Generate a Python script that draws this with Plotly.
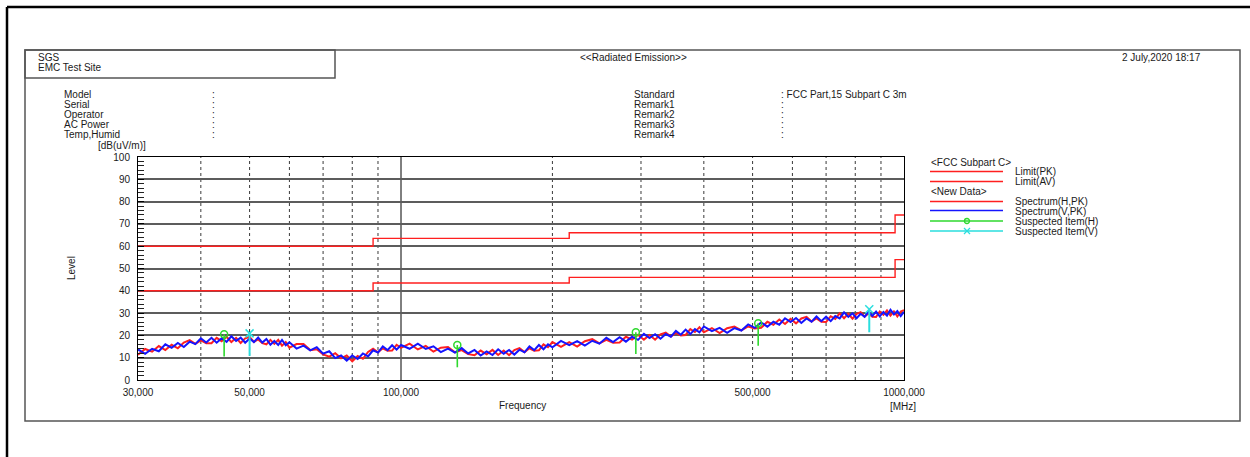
import plotly.graph_objects as go

W, H = 1250, 457

# ---- sweep data (MHz / dB(uV/m)) ----
FREQ_MHZ = [
    30, 31, 32, 33, 34, 35, 36, 37, 38, 39, 40, 41, 42, 43, 44, 45, 46, 47, 48, 49,
    50, 51, 52, 53, 54, 55, 56, 57, 58, 59, 60,
    62, 64, 66, 68, 70, 72, 74, 76, 78, 80, 82, 84, 86, 88, 90, 92, 94, 96, 98, 100,
    104, 108, 112, 116, 120, 124, 128, 132, 136, 140, 144, 148, 152, 156, 160, 164,
    168, 172, 176, 180, 184, 188, 192, 196, 200,
    208, 216, 224, 232, 240, 248, 256, 264, 272, 280, 288, 296, 304, 312, 320, 328,
    336, 344, 352, 360, 368, 376, 384, 392, 400,
    415, 430, 445, 460, 475, 490, 505, 520, 535, 550, 565, 580, 595, 610, 625, 640,
    655, 670, 685, 700, 715, 730, 745, 760, 775, 790, 805, 820, 835, 850, 865, 880,
    895, 910, 925, 940, 955, 970, 985, 1000,
]

SPECTRUM_H_PK = [
    11.3, 13.9, 12.7, 15.2, 13.4, 15.8, 14.2, 16.8, 17.9, 16.2, 17.8, 16.5, 16.5, 18.9,
    17.4, 19.4, 17.0, 18.9, 16.6, 18.7, 19.3, 17.1, 18.2, 16.5, 16.0, 18.0, 16.2, 18.0,
    15.4, 17.0, 14.5,
    16.1, 16.1, 13.4, 13.8, 11.5, 10.5, 12.0, 9.7, 11.0, 8.4, 10.8, 9.5, 12.6, 14.0,
    12.4, 14.2, 13.1, 13.2, 15.8, 14.4,
    16.3, 13.7, 15.3, 12.7, 14.5, 14.8, 12.4, 13.4, 11.6, 11.1, 13.2, 11.5, 13.5, 11.2,
    13.2, 11.1, 13.4, 14.3, 12.5, 14.2, 13.1, 13.3, 16.0, 14.7, 17.0,
    14.9, 17.0, 15.0, 17.4, 18.3, 16.4, 18.0, 16.7, 16.8, 19.4, 18.1, 20.3, 18.1, 20.2,
    18.1, 20.5, 21.3, 19.5, 21.1, 20.0, 20.2, 22.8, 21.5, 23.7, 21.4,
    23.3, 21.0, 23.2, 24.0, 22.3, 24.0, 23.1, 23.4, 26.1, 24.8, 27.1, 25.1, 27.4, 25.4,
    27.6, 28.3, 26.2, 27.6, 26.1, 26.0, 28.6, 27.4, 29.9, 27.7, 29.7, 27.5, 29.7, 30.4,
    28.4, 29.8, 28.4, 28.3, 30.7, 29.2, 31.2, 28.9, 30.8, 28.5, 30.7, 31.3,
]

SPECTRUM_V_PK = [
    13.7, 11.7, 14.0, 12.9, 16.0, 14.4, 16.6, 14.8, 17.2, 16.1, 18.7, 16.8, 18.9, 16.7,
    18.7, 17.1, 19.6, 17.5, 19.0, 16.7, 18.6, 17.0, 19.1, 16.8, 18.4, 15.8, 17.5, 15.7,
    18.0, 15.6, 16.9,
    14.1, 15.4, 13.3, 14.7, 11.8, 12.9, 9.8, 11.0, 8.7, 11.0, 9.4, 11.9, 10.6, 13.3,
    12.3, 15.1, 13.4, 15.6, 13.6, 15.7,
    14.0, 16.3, 13.9, 15.1, 12.5, 14.1, 12.3, 14.3, 11.9, 13.5, 11.0, 12.8, 11.2, 13.8,
    11.8, 13.5, 11.4, 13.6, 12.4, 15.1, 13.4, 15.7, 13.8, 16.0, 14.7,
    17.5, 15.6, 17.4, 15.4, 17.6, 16.3, 18.9, 17.0, 19.2, 17.2, 19.4, 18.0, 20.7, 18.8,
    20.5, 18.5, 20.6, 19.4, 22.0, 20.3, 22.6, 20.6, 22.8, 21.4, 24.0,
    21.9, 23.4, 21.2, 23.3, 22.2, 24.9, 23.4, 25.8, 23.9, 26.1, 24.8, 27.7, 26.0, 27.8,
    25.6, 27.6, 26.1, 28.5, 26.4, 28.4, 26.4, 28.7, 27.6, 30.3, 28.3, 29.9, 27.7, 29.7,
    28.3, 30.7, 28.7, 30.7, 28.5, 30.5, 28.9, 31.5, 29.4, 30.9, 28.7, 30.6,
]

# ---- FCC Part 15 Subpart C limits, 3 m ----
LIMIT_EDGES_MHZ = [30, 88, 216, 960, 1000]
LIMIT_PK = [60.0, 63.5, 66.0, 74.0]
LIMIT_AV = [40.0, 43.5, 46.0, 54.0]

# ---- suspected items: peak level and reading (bottom of the stem) ----
SUSP_H_FREQ = [44.5, 129.4, 293.0, 513.0]
SUSP_H_LEVEL = [20.5, 15.7, 21.4, 25.4]
SUSP_H_READING = [10.5, 5.7, 11.7, 15.4]
SUSP_V_FREQ = [50.0, 853.0]
SUSP_V_LEVEL = [20.9, 31.7]
SUSP_V_READING = [10.8, 21.4]

# ---- axes ----
X_TICKS = [30, 50, 100, 500, 1000]
X_TICK_TEXT = ["30,000", "50,000", "100,000", "500,000", "1000,000"]
X_GRID_DASHED = [40, 50, 60, 70, 80, 90, 200, 300, 400, 500, 600, 700, 800, 900]
X_GRID_SOLID = [100]

HEADER_LEFT = ["Model", "Serial", "Operator", "AC Power", "Temp,Humid"]
HEADER_RIGHT = ["Standard", "Remark1", "Remark2", "Remark3", "Remark4"]
HEADER_RIGHT_VALUES = ["FCC Part,15 Subpart C 3m", "", "", "", ""]

FONT = "Liberation Sans, Arial, sans-serif"
TXT = "#1a1a1a"
RED = "#ff1f1f"
BLUE = "#1414ff"
GREEN = "#2ed82e"
CYAN = "#2adede"


def px(x):
    return x / W


def py(y):
    return 1 - y / H


def step_line(edges, values):
    return list(edges), list(values) + [values[-1]]


def stems(freqs, tops, bottoms):
    xs, ys = [], []
    for f, t, b in zip(freqs, tops, bottoms):
        xs += [f, f, None]
        ys += [t, b, None]
    return xs, ys


fig = go.Figure()

# limits
for lim in (LIMIT_PK, LIMIT_AV):
    lx, ly = step_line(LIMIT_EDGES_MHZ, lim)
    fig.add_trace(go.Scatter(x=lx, y=ly, mode="lines", line_shape="hv",
                             line=dict(color=RED, width=1.4)))

# spectra
fig.add_trace(go.Scatter(x=FREQ_MHZ, y=SPECTRUM_H_PK, mode="lines",
                         line=dict(color=RED, width=2)))
fig.add_trace(go.Scatter(x=FREQ_MHZ, y=SPECTRUM_V_PK, mode="lines",
                         line=dict(color=BLUE, width=2)))

# suspected items
sx, sy = stems(SUSP_H_FREQ, SUSP_H_LEVEL, SUSP_H_READING)
fig.add_trace(go.Scatter(x=sx, y=sy, mode="lines", line=dict(color=GREEN, width=1.6)))
fig.add_trace(go.Scatter(x=SUSP_H_FREQ, y=SUSP_H_LEVEL, mode="markers",
                         marker=dict(symbol="circle-open", size=7, color=GREEN,
                                     line=dict(width=1.5, color=GREEN))))
sx, sy = stems(SUSP_V_FREQ, SUSP_V_LEVEL, SUSP_V_READING)
fig.add_trace(go.Scatter(x=sx, y=sy, mode="lines", line=dict(color=CYAN, width=2)))
fig.add_trace(go.Scatter(x=SUSP_V_FREQ, y=SUSP_V_LEVEL, mode="markers",
                         marker=dict(symbol="x-thin", size=8, color=CYAN,
                                     line=dict(width=1.5, color=CYAN))))

shapes = []
# vertical frequency grid
for f in X_GRID_DASHED:
    shapes.append(dict(type="line", xref="x", yref="y domain", x0=f, x1=f, y0=0, y1=1,
                       line=dict(color="#3a3a3a", width=1, dash="3px,3px"), layer="below"))
for f in X_GRID_SOLID:
    shapes.append(dict(type="line", xref="x", yref="y domain", x0=f, x1=f, y0=0, y1=1,
                       line=dict(color="#000000", width=1), layer="below"))

# page frames
shapes.append(dict(type="line", xref="paper", yref="paper", x0=px(7), x1=1, y0=py(7), y1=py(7),
                   line=dict(color="#000", width=2.5)))
shapes.append(dict(type="line", xref="paper", yref="paper", x0=px(7), x1=px(7), y0=py(7), y1=0,
                   line=dict(color="#000", width=2.5)))
shapes.append(dict(type="rect", xref="paper", yref="paper", x0=px(25), x1=px(1240),
                   y0=py(421), y1=py(50), line=dict(color="#555", width=1.5)))
shapes.append(dict(type="rect", xref="paper", yref="paper", x0=px(25), x1=px(335),
                   y0=py(78), y1=py(50), line=dict(color="#555", width=1.5)))

# legend glyphs
legend_rows = [(171.5, RED), (181.5, RED), (201.5, RED), (210.5, BLUE), (221, GREEN), (231, CYAN)]
for yy, col in legend_rows:
    shapes.append(dict(type="line", xref="paper", yref="paper", x0=px(930), x1=px(1003),
                       y0=py(yy), y1=py(yy), line=dict(color=col, width=1.3)))
shapes.append(dict(type="circle", xref="paper", yref="paper", x0=px(964.5), x1=px(969.5),
                   y0=py(223.5), y1=py(218.5), line=dict(color=GREEN, width=1.3)))
shapes.append(dict(type="line", xref="paper", yref="paper", x0=px(964), x1=px(970),
                   y0=py(228), y1=py(234), line=dict(color=CYAN, width=1.3)))
shapes.append(dict(type="line", xref="paper", yref="paper", x0=px(964), x1=px(970),
                   y0=py(234), y1=py(228), line=dict(color=CYAN, width=1.3)))

annotations = []


def label(text, x, y, anchor="left", size=10, angle=0):
    annotations.append(dict(text=text, x=px(x), y=py(y), xref="paper", yref="paper",
                            xanchor=anchor, yanchor="middle", showarrow=False,
                            textangle=angle, borderpad=0,
                            font=dict(family=FONT, size=size, color=TXT)))


label("SGS", 37, 58)
label("EMC Test Site", 37, 68)
label("&lt;&lt;Radiated Emission&gt;&gt;", 633, 58, anchor="center")
label("2 July,2020 18:17", 1121, 58)
for i, name in enumerate(HEADER_LEFT):
    yy = 94 + 10 * i
    label(name, 63, yy)
    label(":", 211, yy)
for i, (name, val) in enumerate(zip(HEADER_RIGHT, HEADER_RIGHT_VALUES)):
    yy = 94 + 10 * i
    label(name, 633, yy)
    label(":" + (" " + val if val else ""), 780, yy)

label("[dB(uV/m)]", 122, 145, anchor="center")
label("Level", 71, 268, anchor="center", angle=-90)
label("Frequency", 522, 405, anchor="center")
label("[MHz]", 903, 406, anchor="center")

label("&lt;FCC Subpart C&gt;", 930, 162)
label("Limit(PK)", 1014, 171)
label("Limit(AV)", 1014, 181)
label("&lt;New Data&gt;", 930, 191)
label("Spectrum(H,PK)", 1014, 201)
label("Spectrum(V,PK)", 1014, 211)
label("Suspected Item(H)", 1014, 221)
label("Suspected Item(V)", 1014, 231)

fig.update_layout(
    width=W, height=H, autosize=False,
    margin=dict(l=0, r=0, t=0, b=0, pad=0, autoexpand=False),
    paper_bgcolor="white", plot_bgcolor="white",
    showlegend=False, hovermode=False,
    shapes=shapes, annotations=annotations,
    font=dict(family=FONT, size=10, color=TXT),
)

fig.update_xaxes(
    type="log", range=[1.4771213, 3.0], domain=[px(138), px(904)], automargin=False,
    tickvals=X_TICKS, ticktext=X_TICK_TEXT, ticks="", showgrid=False,
    ticklabelstandoff=3,
    showline=True, linecolor="#000", linewidth=1, mirror=True,
    tickfont=dict(family=FONT, size=10, color=TXT), zeroline=False,
)
fig.update_yaxes(
    range=[0, 100], domain=[py(380), py(157)], dtick=10, automargin=False,
    showgrid=True, gridcolor="#5c5c5c", gridwidth=2,
    ticks="inside", ticklen=6, tickcolor="#000", tickwidth=1,
    ticklabelstandoff=5,
    minor=dict(dtick=2, ticks="inside", ticklen=6, tickcolor="#222", showgrid=False),
    showline=True, linecolor="#000", linewidth=1, mirror=True,
    tickfont=dict(family=FONT, size=10, color=TXT), zeroline=False,
)

# the page body keeps no margin so the figure fills the window exactly
fig.write_html("out.html", post_script="document.body.style.margin='0';")
